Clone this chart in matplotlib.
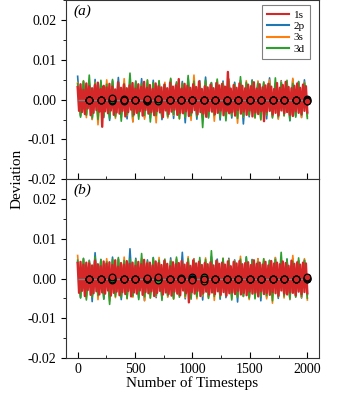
import numpy as np
import matplotlib
matplotlib.use("Agg")
import matplotlib.pyplot as plt
from matplotlib.ticker import MultipleLocator

plt.rcParams['font.family'] = ['Liberation Serif', 'DejaVu Serif']

# deviations in units of 1e-3 (band shape)
t_start, t_end = 0, 2000
dot_steps = [100, 200, 300, 400, 500, 600, 700, 800, 900, 1000,
             1100, 1200, 1300, 1400, 1500, 1600, 1700, 1800, 1900, 2000]

red_a = [3.2, -2.8, 3.9, -3.1, 2.5, -3.6, 4.1, -2.2, 3.4, -3.9,
         2.9, -3.3, 3.7, -2.6, 4.3, -3.0, 2.7, -6.8, 3.5, -2.9,
         3.1, -3.4, 4.0, -2.7, 3.3, -3.8, 2.6, -3.2, 4.4, -3.5,
         3.0, -2.8, 3.8, -4.2, 2.9, -3.1, 3.6, -2.5, 4.2, -3.7,
         2.8, -3.3, 3.9, -2.9, 3.2, -4.0, 4.5, -2.6, 3.0, -3.5,
         3.7, -3.1, 2.7, -3.9, 4.1, -2.8, 3.4, -3.2, 3.1, -4.4,
         3.8, -2.7, 2.9, -3.6, 4.3, -3.0, 3.3, -2.5, 3.6, -3.8,
         5.2, -3.3, 2.8, -3.4, 4.0, -2.9, 3.5, -4.1, 3.0, -3.2,
         3.9, -2.6, 3.2, -3.7, 4.6, -3.1, 2.7, -3.5, 3.4, -4.3,
         3.1, -2.8, 3.8, -3.0, 2.9, -3.6, 4.2, -3.3, 3.6, -2.7,
         4.0, -3.9, 3.3, -2.9, 7.0, -3.4, 2.8, -3.1, 3.7, -4.0,
         3.0, -2.6, 4.1, -3.5, 3.5, -3.0, 2.9, -3.8, 3.8, -2.7,
         3.4, -4.2, 4.4, -3.2, 2.8, -3.6, 3.9, -2.9, 3.1, -5.4,
         3.6, -3.0, 4.0, -2.8, 3.3, -3.7, 2.7, -3.3, 4.2, -3.9,
         3.0, -2.7, 3.7, -3.4, 4.5, -3.1, 3.2, -3.8, 2.9, -4.1,
         3.5, -2.9, 4.1, -3.3, 3.0, -3.6, 3.8, -2.8, 3.4, -3.2]
blue_a = [5.9, -4.1, 4.6, -3.8, 4.2, -4.9, 5.1, -3.6, 4.4, -4.5,
          3.9, -5.2, 4.8, -4.0, 5.6, -3.7, 4.3, -4.8, 4.0, -5.5,
          4.7, -3.9, 5.3, -4.4, 4.1, -4.6, 4.9, -3.8, 4.5, -5.0,
          3.8, -4.3, 5.0, -4.7, 4.2, -3.9, 4.6, -5.8, 5.4, -4.1,
          4.0, -4.9, 4.8, -3.7, 5.7, -4.4, 4.3, -4.2, 3.9, -5.1,
          4.7, -4.0, 5.2, -4.6, 4.4, -3.8, 4.9, -6.1, 4.1, -4.3,
          5.0, -4.5, 4.6, -3.9, 4.2, -4.8, 5.5, -4.2, 4.0, -4.7,
          4.8, -3.9, 4.3, -5.3, 5.1, -4.1, 4.5, -4.4, 5.0, -3.6]
orange_a = [4.3, -3.9, 4.8, -4.5, 3.9, -5.0, 4.4, -6.3, 4.1, -4.2,
            5.0, -3.8, 4.5, -4.7, 3.8, -4.4, 5.3, -4.0, 4.2, -5.6,
            4.6, -4.3, 3.9, -4.9, 4.9, -3.7, 4.0, -5.8, 4.7, -4.1,
            4.4, -4.6, 5.2, -3.9, 4.1, -4.8, 3.8, -4.3, 4.8, -5.2,
            6.2, -4.0, 4.3, -4.5, 4.6, -3.8, 4.0, -5.4, 4.9, -4.2,
            4.2, -4.7, 5.1, -4.0, 3.9, -5.9, 4.5, -4.3, 4.8, -3.9,
            4.1, -4.6, 4.7, -5.1, 4.3, -3.8, 5.0, -4.4, 3.9, -4.9,
            4.6, -4.1, 4.2, -4.7, 5.4, -3.9, 4.0, -4.5, 4.4, -4.2]
green_a = [4.0, -4.4, 4.7, -3.9, 6.2, -4.6, 4.2, -5.0, 4.9, -4.1,
           3.9, -4.7, 5.1, -4.3, 4.4, -5.4, 4.0, -3.8, 6.7, -4.2,
           4.6, -4.9, 4.1, -3.9, 5.0, -5.6, 4.3, -4.0, 4.8, -4.5,
           3.8, -4.2, 5.4, -3.7, 4.5, -4.8, 4.2, -4.4, 6.1, -4.0,
           4.7, -4.3, 4.0, -7.0, 4.9, -4.6, 4.3, -3.9, 5.2, -4.5,
           4.1, -5.3, 4.6, -4.1, 4.0, -4.7, 5.8, -4.2, 4.4, -3.9,
           4.8, -4.5, 4.2, -5.0, 4.5, -3.8, 4.0, -4.6, 5.5, -4.3,
           4.3, -4.0, 4.9, -5.2, 4.1, -4.4, 4.6, -3.9, 4.2, -4.7]

red_b = [3.9, -3.6, 4.2, -3.1, 3.5, -4.4, 4.0, -2.9, 3.8, -4.1,
         3.3, -3.7, 4.5, -3.2, 3.6, -4.0, 3.1, -3.5, 4.3, -3.8,
         3.7, -3.0, 4.1, -4.3, 3.4, -3.6, 4.6, -3.3, 3.0, -4.2,
         3.9, -3.4, 3.5, -3.9, 4.4, -3.1, 3.7, -4.5, 4.0, -3.5,
         3.2, -3.8, 4.2, -3.0, 3.6, -4.1, 4.7, -3.4, 3.8, -3.7,
         4.0, -3.2, 3.3, -4.4, 4.3, -3.6, 3.9, -3.1, 3.4, -4.0,
         4.5, -3.5, 3.7, -3.9, 3.1, -4.3, 4.1, -3.3, 3.6, -3.8,
         3.9, -4.2, 4.4, -3.0, 3.5, -3.7, 4.0, -6.0, 3.2, -3.4,
         4.6, -3.8, 3.8, -3.1, 4.2, -4.4, 3.4, -3.6, 3.9, -3.3,
         3.6, -4.0, 4.1, -3.5, 3.3, -3.9, 4.5, -3.2, 3.7, -4.1,
         4.0, -3.4, 3.5, -4.3, 4.3, -3.7, 3.1, -3.5, 4.2, -3.9,
         3.8, -3.1, 4.4, -4.0, 3.6, -3.6, 3.9, -4.2, 4.1, -3.3,
         3.4, -3.8, 4.6, -3.5, 3.7, -4.5, 4.0, -3.2, 3.5, -3.9,
         4.2, -3.6, 3.3, -4.1, 4.4, -3.4, 3.8, -3.7, 4.0, -4.3,
         3.6, -3.0, 4.3, -3.8, 3.9, -4.0, 3.2, -3.5, 4.5, -3.6,
         3.7, -4.2, 4.1, -3.3, 3.5, -3.9, 4.0, -3.4, 3.8, -3.7]
blue_b = [4.2, -4.8, 5.0, -4.4, 4.6, -5.8, 6.5, -4.2, 4.8, -5.1,
          4.3, -4.6, 5.4, -4.0, 4.9, -5.3, 4.5, -4.7, 7.5, -4.3,
          5.1, -4.9, 4.4, -5.5, 4.7, -4.1, 5.3, -4.8, 4.6, -5.0,
          4.1, -4.5, 5.2, -4.9, 4.8, -4.3, 6.6, -5.1, 4.4, -4.7,
          5.0, -4.2, 4.6, -5.4, 4.3, -4.6, 5.5, -4.0, 4.9, -5.2,
          4.5, -4.8, 5.1, -4.3, 4.7, -5.9, 4.2, -4.5, 5.3, -4.9,
          4.8, -4.1, 5.0, -5.6, 4.4, -4.7, 4.6, -4.3, 5.2, -5.0,
          4.3, -4.6, 4.9, -5.3, 5.0, -4.4, 4.5, -4.9, 4.7, -4.1]
orange_b = [5.8, -4.5, 4.8, -5.0, 4.4, -4.6, 5.2, -5.3, 4.6, -4.2,
            5.0, -5.7, 4.3, -4.8, 4.9, -4.4, 5.4, -5.1, 4.5, -4.7,
            4.7, -4.3, 5.1, -5.6, 4.2, -4.9, 4.8, -4.5, 5.3, -5.0,
            4.4, -4.7, 4.6, -5.2, 5.0, -4.3, 4.3, -4.8, 5.5, -4.6,
            4.9, -5.1, 4.5, -4.4, 5.2, -4.9, 4.7, -5.5, 4.2, -4.6,
            5.1, -4.3, 4.8, -5.0, 4.4, -4.7, 5.6, -4.5, 4.6, -5.3,
            4.3, -4.8, 5.0, -4.4, 4.9, -5.1, 4.5, -6.2, 5.3, -4.6,
            4.7, -4.9, 4.4, -5.2, 5.8, -4.5, 4.6, -4.8, 5.0, -5.4]
green_b = [4.6, -4.9, 5.1, -5.4, 4.4, -4.7, 5.5, -4.3, 4.8, -5.2,
           4.2, -6.5, 4.9, -4.5, 5.3, -4.8, 4.5, -5.0, 5.0, -4.4,
           4.7, -5.3, 6.3, -4.6, 4.3, -4.9, 5.2, -4.2, 4.6, -5.5,
           4.9, -4.3, 4.4, -5.1, 5.4, -4.7, 4.1, -4.4, 5.0, -5.2,
           4.5, -4.6, 5.3, -4.0, 4.8, -5.0, 7.0, -4.5, 4.4, -4.8,
           5.1, -4.2, 4.6, -5.4, 4.3, -4.7, 4.9, -4.4, 5.5, -4.9,
           4.7, -5.1, 4.2, -4.5, 5.0, -4.3, 4.5, -5.6, 4.8, -4.6,
           6.6, -4.4, 4.9, -5.0, 4.3, -4.7, 5.2, -4.5, 4.6, -4.9]

# mean values shown as circles every 100 steps (1e-3)
dots_a = {
    '2p': [0.0, 0.0, -0.3, 0.0, 0.0, -0.2, 0.1, 0.0, 0.0, 0.0,
           0.0, 0.0, -0.2, 0.0, 0.0, 0.0, 0.0, 0.0, 0.0, 0.2],
    '3s': [0.0, 0.0, 0.0, 0.2, 0.0, -0.4, 0.0, 0.0, 0.0, 0.0,
           0.0, 0.0, 0.0, 0.0, 0.0, 0.0, 0.0, 0.0, 0.0, 0.0],
    '3d': [0.0, 0.0, 0.0, -0.4, 0.0, 0.0, -0.2, 0.0, 0.0, 0.0,
           0.0, 0.0, 0.0, 0.0, 0.0, 0.0, 0.0, 0.0, 0.0, -0.2],
    '1s': [0.0, 0.0, 0.5, 0.0, 0.0, 0.3, 0.3, 0.0, 0.0, 0.0,
           0.0, 0.0, 0.0, 0.0, 0.0, 0.0, 0.0, 0.0, 0.0, -0.3],
}
dots_b = {
    '2p': [0.0, 0.0, 0.0, 0.0, -0.2, 0.0, 0.0, 0.0, 0.2, 0.3,
           0.0, 0.0, 0.0, 0.0, 0.0, 0.0, 0.0, 0.0, 0.0, -0.2],
    '3s': [0.0, 0.0, -0.3, 0.0, 0.0, 0.0, 0.0, 0.0, 0.0, 0.0,
           -0.5, 0.0, 0.0, 0.0, 0.0, 0.0, 0.0, 0.0, 0.0, 0.0],
    '3d': [0.0, 0.0, 0.0, 0.0, 0.0, 0.0, -0.4, 0.0, 0.0, 0.0,
           0.4, 0.0, 0.0, 0.0, 0.0, 0.0, 0.0, 0.0, 0.0, 0.2],
    '1s': [0.0, 0.0, 0.3, 0.0, 0.0, 0.2, 0.3, 0.0, 0.0, -0.3,
           0.0, 0.0, 0.0, 0.0, 0.0, 0.0, 0.0, 0.0, 0.0, 0.3],
}

colors = {'1s': '#d62728', '2p': '#1f77b4', '3s': '#ff7f0e', '3d': '#2ca02c'}
panels = [
    ('(a)', {'2p': blue_a, '3s': orange_a, '3d': green_a, '1s': red_a}, dots_a),
    ('(b)', {'2p': blue_b, '3s': orange_b, '3d': green_b, '1s': red_b}, dots_b),
]

fig, axes = plt.subplots(2, 1, figsize=(3.41, 3.93), dpi=100, sharex=True)
fig.subplots_adjust(left=0.194, right=0.935, top=0.999, bottom=0.089, hspace=0)

for ax, (tag, series, dots) in zip(axes, panels):
    handles = {}
    for name, vals in series.items():
        x = np.linspace(t_start, t_end, len(vals))
        lw = 1.7 if name == '1s' else 1.2
        line, = ax.plot(x, np.array(vals) * 1e-3, color=colors[name], lw=lw,
                        zorder=3 if name == '1s' else 2, label=name)
        handles[name] = line
    ax.hlines(0, t_start, t_end, color='gray', lw=1.0, zorder=4)
    for name, vals in dots.items():
        ax.plot(dot_steps, np.array(vals) * 1e-3, 'o', ms=4.8, mfc=colors[name],
                mec='black', mew=0.9, zorder=5)

    ax.set_ylim(-0.02, 0.025)
    ax.set_xlim(-100, 2100)
    ax.yaxis.set_minor_locator(MultipleLocator(0.005))
    ax.xaxis.set_major_locator(MultipleLocator(500))
    ax.xaxis.set_minor_locator(MultipleLocator(250))
    ax.set_yticks([-0.02, -0.01, 0.0, 0.01, 0.02])
    ax.set_yticklabels(['-0.02', '-0.01', '0.00', '0.01', '0.02'])
    ax.tick_params(axis='y', which='both', direction='out', right=False, labelsize=10)
    ax.tick_params(axis='y', which='major', length=3.5)
    ax.tick_params(axis='y', which='minor', length=2)
    ax.tick_params(axis='x', which='both', direction='in', top=False, labelsize=10)
    ax.tick_params(axis='x', which='major', length=4)
    ax.tick_params(axis='x', which='minor', length=2.5)
    for sp in ax.spines.values():
        sp.set_linewidth(0.8)
        sp.set_color('#333333')
    ax.text(0.03, 0.975, tag, transform=ax.transAxes, style='italic',
            fontsize=11, ha='left', va='top')

    if tag == '(a)':
        order = ['1s', '2p', '3s', '3d']
        leg_lines = [plt.Line2D([], [], color=colors[k], lw=1.5) for k in order]
        leg = ax.legend(leg_lines, order, loc='upper right',
                        bbox_to_anchor=(0.964, 0.972), borderaxespad=0,
                        fontsize=8, fancybox=False, edgecolor='gray',
                        handlelength=2.0, handletextpad=0.4, labelspacing=0.12,
                        borderpad=0.45, framealpha=1)
        leg.get_frame().set_linewidth(0.8)

axes[1].set_xlabel('Number of Timesteps', fontsize=11, labelpad=0)
fig.text(0.05, 0.545, 'Deviation', rotation=90, fontsize=11, ha='center', va='center')

fig.savefig('out.png', dpi=100)
